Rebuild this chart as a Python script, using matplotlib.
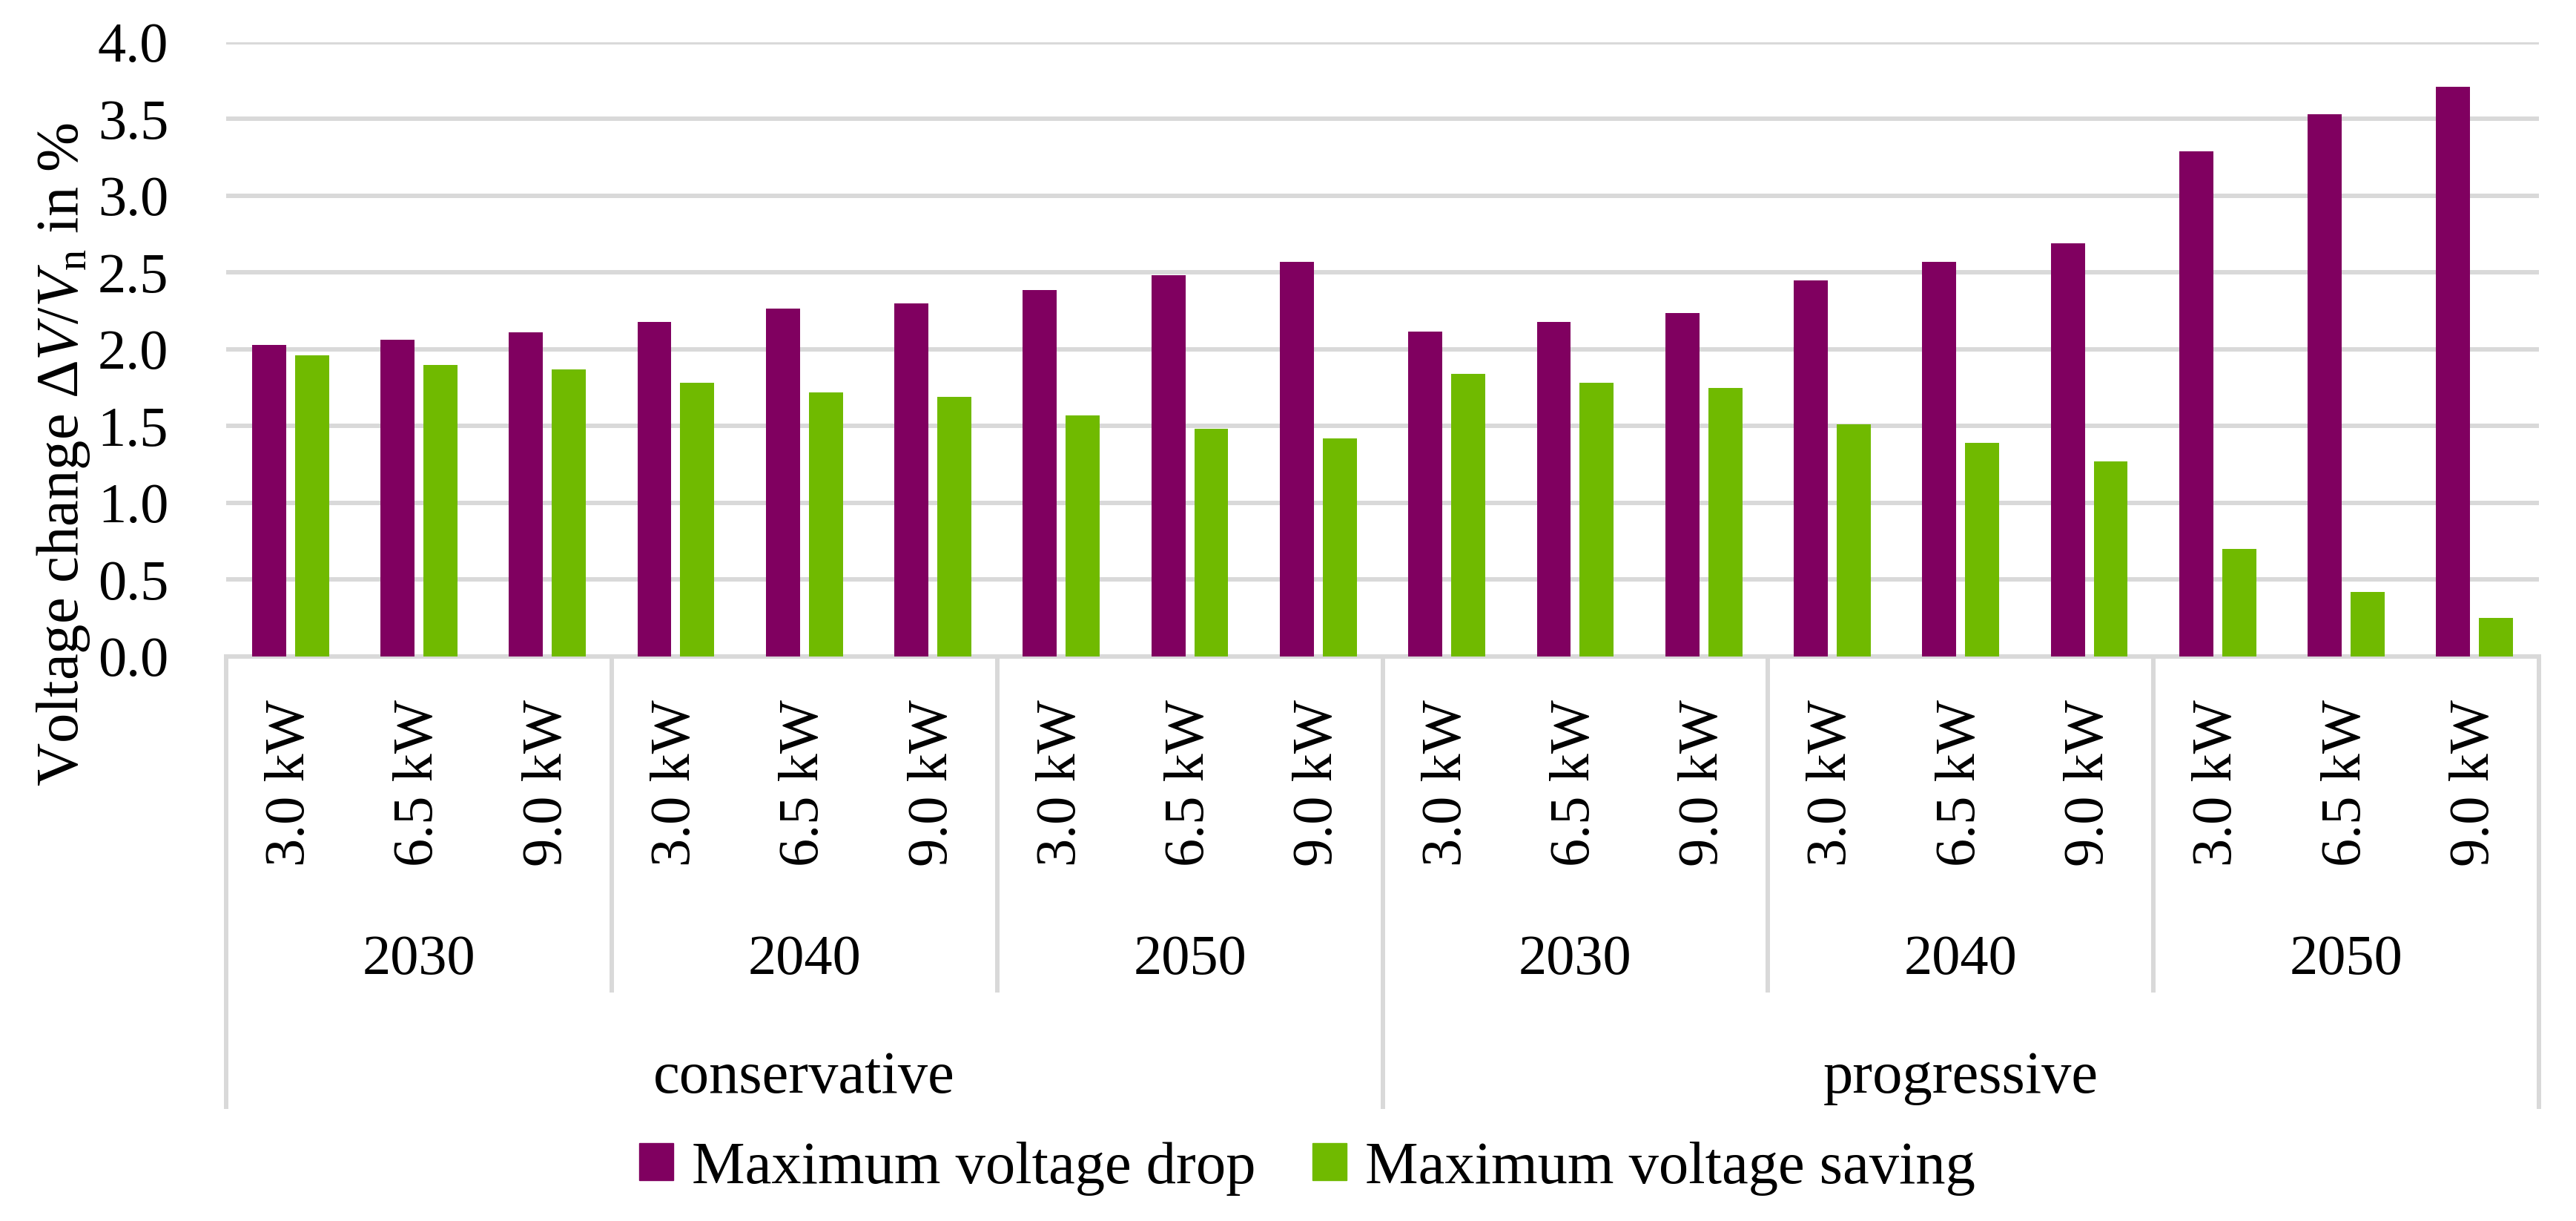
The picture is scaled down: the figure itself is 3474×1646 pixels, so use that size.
import matplotlib
matplotlib.use("Agg")
from matplotlib import pyplot as plt
from matplotlib.patches import Patch
import numpy as np

scenarios = ['conservative', 'progressive']
years = ['2030', '2040', '2050']
powers = ['3.0 kW', '6.5 kW', '9.0 kW']
voltage_drop = [2.03, 2.06, 2.11, 2.18, 2.265, 2.30, 2.385, 2.48, 2.57,
                2.115, 2.18, 2.235, 2.45, 2.57, 2.69, 3.29, 3.53, 3.71]
voltage_saving = [1.96, 1.90, 1.87, 1.78, 1.72, 1.69, 1.57, 1.48, 1.42,
                  1.84, 1.78, 1.75, 1.51, 1.39, 1.27, 0.70, 0.42, 0.25]

purple = '#800060'
green = '#70BA00'
grid = '#D9D9D9'
serif = 'Liberation Serif'

plt.rcParams['font.family'] = serif
plt.rcParams['mathtext.fontset'] = 'custom'
plt.rcParams['mathtext.rm'] = serif
plt.rcParams['mathtext.it'] = serif + ':italic'

fig = plt.figure(figsize=(34.74, 16.46), dpi=100)
ax = fig.add_axes([305 / 3474, 1 - 885 / 1646, 3119 / 3474, 828.4 / 1646])

x = np.arange(len(voltage_drop))
ax.bar(x - 0.167, voltage_drop, width=0.265, color=purple, zorder=3)
ax.bar(x + 0.167, voltage_saving, width=0.265, color=green, zorder=3)

ax.set_xlim(-0.5, len(x) - 0.5)
ax.set_ylim(0, 4)
ax.set_yticks(np.arange(0, 4.01, 0.5))
ax.set_yticklabels(['%.1f' % v for v in np.arange(0, 4.01, 0.5)])
ax.tick_params(axis='y', length=0, pad=56, labelsize=55)
ax.set_xticks([])
ax.yaxis.grid(True, color=grid, linewidth=4.3, zorder=0)
ax.set_axisbelow(True)
for s in ['top', 'left', 'right']:
    ax.spines[s].set_visible(False)
ax.spines['bottom'].set_color(grid)
ax.spines['bottom'].set_linewidth(4.3)

tr = ax.get_xaxis_transform()
n_y = len(powers)
n_s = len(years) * n_y

# power labels
for i in x:
    ax.text(i, -0.070, powers[i % n_y], rotation=90, ha='center', va='top',
            fontsize=55, transform=tr)

# year labels
for k in range(len(x) // n_y):
    ax.text(k * n_y + (n_y - 1) / 2, -0.5167, years[k % len(years)],
            ha='center', va='baseline', fontsize=55, transform=tr)

# scenario labels
for k, sc in enumerate(scenarios):
    ax.text(k * n_s + (n_s - 1) / 2, -0.710, sc, ha='center',
            va='baseline', fontsize=58, transform=tr)

# separators
for b in np.arange(-0.5, len(x), n_y):
    low = -0.736 if (b + 0.5) % n_s == 0 else -0.547
    ax.plot([b, b], [0, low], color=grid, linewidth=4.3, transform=tr,
            clip_on=False, solid_capstyle='butt')

fig.text(105 / 3474, 1 - 613 / 1646, r'Voltage change $\Delta V/V_\mathrm{n}$ in %',
         rotation=90, rotation_mode='anchor', ha='center', va='baseline',
         fontsize=58)

handles = [Patch(color=purple), Patch(color=green)]
fig.legend(handles, ['Maximum voltage drop', 'Maximum voltage saving'],
           loc='center', bbox_to_anchor=(1763 / 3474, 1 - 1575 / 1646),
           ncol=2, frameon=False, fontsize=58, handlelength=0.58,
           handleheight=0.57, handletextpad=0.31, columnspacing=0.94)

fig.savefig('out.png', dpi=100, facecolor='white')
